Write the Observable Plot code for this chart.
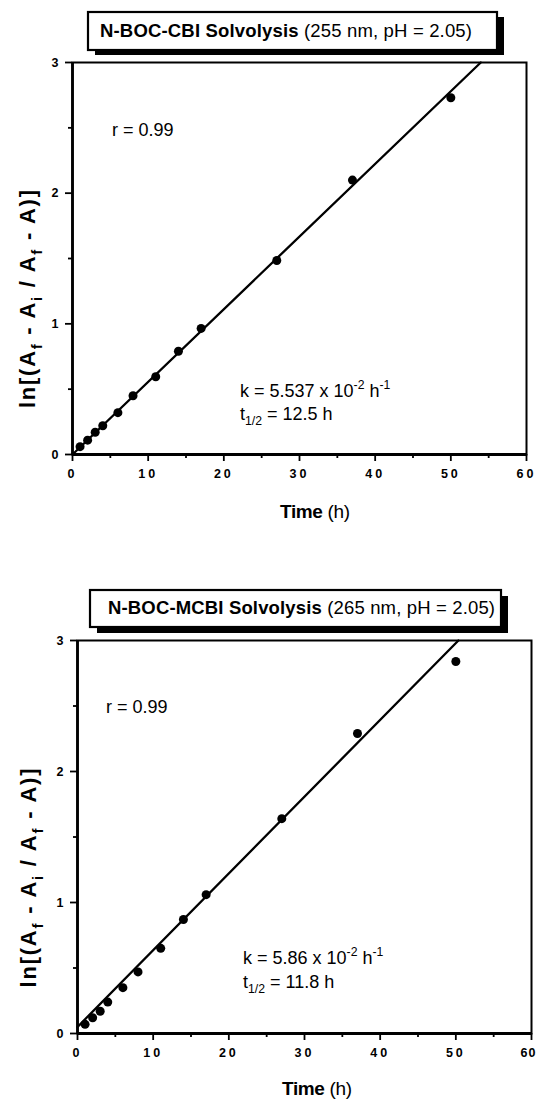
<!DOCTYPE html>
<html><head><meta charset="utf-8">
<script src="https://cdn.jsdelivr.net/npm/d3@7"></script>
<script src="https://cdn.jsdelivr.net/npm/@observablehq/plot@0.6"></script>
<style>
html,body{margin:0;padding:0;background:#fff;}
#root{width:539px;height:1099px;overflow:hidden;}
svg{display:block;font-family:"Liberation Sans",Arial,Helvetica,sans-serif;}
</style></head><body><div id="root"></div>
<script>
// ---- data ----
const timeTop = [1, 2, 3, 4, 6, 8, 11, 14, 17, 27, 37, 50];
const lnTop = [0.06, 0.11, 0.17, 0.22, 0.32, 0.45, 0.595, 0.79, 0.965, 1.485, 2.10, 2.73];
const fitTop = [0.0556, 0.0];          // slope, intercept of the drawn line

const timeBottom = [1, 2, 3, 4, 6, 8, 11, 14, 17, 27, 37, 50];
const lnBottom = [0.07, 0.12, 0.17, 0.24, 0.35, 0.47, 0.65, 0.87, 1.06, 1.64, 2.29, 2.84];
const fitBottom = [0.0586, 0.05];

const xMajor = [0, 10, 20, 30, 40, 50, 60];
const xMinor = [5, 15, 25, 35, 45, 55];
const yMajor = [0, 1, 2, 3];
const yMinor = [0.5, 1.5, 2.5];

const FONT = '"Liberation Sans", Arial, Helvetica, sans-serif';

function rich(g, x, y, size, parts, opts = {}) {
  const t = g.append("text").attr("x", x).attr("y", y).attr("font-size", size)
    .attr("fill", "black").style("white-space", "pre").attr("font-family", FONT)
    .attr("text-anchor", opts.anchor || "start");
  if (opts.weight) t.attr("font-weight", opts.weight);
  if (opts.len) t.attr("textLength", opts.len).attr("lengthAdjust", "spacing");
  if (opts.transform) t.attr("transform", opts.transform);
  let shift = 0;
  parts.forEach(p => {
    const s = t.append("tspan").text(p.t);
    const target = p.sub ? size * 0.3 : p.sup ? -size * 0.42 : 0;
    s.attr("dy", target - shift); shift = target;
    if (p.sub || p.sup) s.attr("font-size", size * 0.68);
    if (p.w) s.attr("font-weight", p.w);
  });
}

function panel(c) {
  const data = c.times.map((t, i) => ({t, v: c.values[i]}));
  const [slope, intercept] = c.fit;
  const fit = [{t: 0, v: intercept}, {t: (3 - intercept) / slope, v: 3}];
  const svg = Plot.plot({
    width: 539, height: c.height,
    marginTop: c.mt, marginBottom: c.mb, marginLeft: c.ml, marginRight: c.mr,
    style: {fontFamily: FONT, background: "white", color: "black", overflow: "visible"},
    x: {domain: [0, 60]},
    y: {domain: [0, 3]},
    marks: [
      Plot.axisX({ticks: xMajor, tickSize: 7, tickPadding: 8, tickFormat: d => String(d), fontSize: 12.5, fontWeight: "bold", strokeWidth: 1.8, label: null}),
      Plot.axisX({ticks: xMinor, tickSize: 4, tickFormat: () => "", strokeWidth: 1.8, label: null}),
      Plot.axisY({ticks: yMajor, tickSize: 7, tickPadding: 7, tickFormat: d => String(d), fontSize: 12.5, fontWeight: "bold", strokeWidth: 1.8, label: null}),
      Plot.axisY({ticks: yMinor, tickSize: 4, tickFormat: () => "", strokeWidth: 1.8, label: null}),
      Plot.frame({strokeWidth: 2}),
      Plot.ruleX([0], {strokeWidth: 2.8}),
      Plot.ruleY([0], {strokeWidth: 2.8}),
      Plot.line(fit, {x: "t", y: "v", strokeWidth: 2.3}),
      Plot.dot(data, {x: "t", y: "v", r: 4.5, fill: "black"})
    ]
  });
  const s = d3.select(svg);
  const labels = s.selectAll('g[aria-label="x-axis tick label"] text')
    .filter(function() { return this.textContent.trim() !== ""; })
    .style("letter-spacing", "3px").nodes();
  if (c.lastShift && labels.length) {
    d3.select(labels[labels.length - 1]).attr("dx", c.lastShift).style("letter-spacing", "1px");
  }
  const g = s.append("g");
  const b = c.box;
  g.append("rect").attr("x", b.x + b.dx).attr("y", b.y + b.dy).attr("width", b.w).attr("height", b.h).attr("fill", "black");
  g.append("rect").attr("x", b.x).attr("y", b.y).attr("width", b.w).attr("height", b.h)
    .attr("fill", "white").attr("stroke", "black").attr("stroke-width", 2.2);
  rich(g, b.tx, b.ty, 18.5, [{t: c.titleBold, w: "bold"}, {t: " " + c.titleRest}], {len: b.tlen});
  rich(g, c.r[0], c.r[1], 18, [{t: "r = " + c.rText}]);
  rich(g, c.k[0], c.k[1], 18, [{t: "k = " + c.kText + " x 10"}, {t: "-2", sup: true}, {t: " h"}, {t: "-1", sup: true}]);
  rich(g, c.h[0], c.h[1], 18, [{t: "t"}, {t: "1/2", sub: true}, {t: " = " + c.hText + " h"}]);
  rich(g, 0, 0, 22, [{t: "ln[(A"}, {t: "f", sub: true}, {t: " - A"}, {t: "i", sub: true}, {t: " / A"}, {t: "f", sub: true}, {t: " - A)]"}],
    {anchor: "middle", weight: "bold", len: c.yl[2], transform: `translate(${c.yl[0]},${c.yl[1]}) rotate(-90)`});
  rich(g, c.xl[0], c.xl[1], 19, [{t: "Time", w: "bold"}, {t: " (h)"}], {anchor: "middle", len: 70});
  return svg;
}

const root = document.getElementById("root");
root.appendChild(panel({
  height: 580, mt: 62, mb: 126, ml: 72, mr: 13,
  times: timeTop, values: lnTop, fit: fitTop,
  box: {x: 88, y: 12, w: 409, h: 38, dx: 7, dy: 5, tx: 100, ty: 37, tlen: 372},
  titleBold: "N-BOC-CBI Solvolysis", titleRest: "(255 nm, pH = 2.05)",
  r: [112, 136], rText: "0.99",
  k: [240, 397], kText: "5.537",
  h: [240, 420], hText: "12.5",
  yl: [35, 299, 218], xl: [315, 518]
}));
root.appendChild(panel({
  height: 519, mt: 60, mb: 66, ml: 77, mr: 8,
  times: timeBottom, values: lnBottom, fit: fitBottom, lastShift: -3,
  box: {x: 90, y: 10, w: 411, h: 37, dx: 7, dy: 6, tx: 108, ty: 33.5, tlen: 387},
  titleBold: "N-BOC-MCBI Solvolysis", titleRest: "(265 nm, pH = 2.05)",
  r: [106, 133], rText: "0.99",
  k: [243, 384], kText: "5.86",
  h: [243, 408], hText: "11.8",
  yl: [36, 298, 219], xl: [317, 515]
}));
</script></body></html>
